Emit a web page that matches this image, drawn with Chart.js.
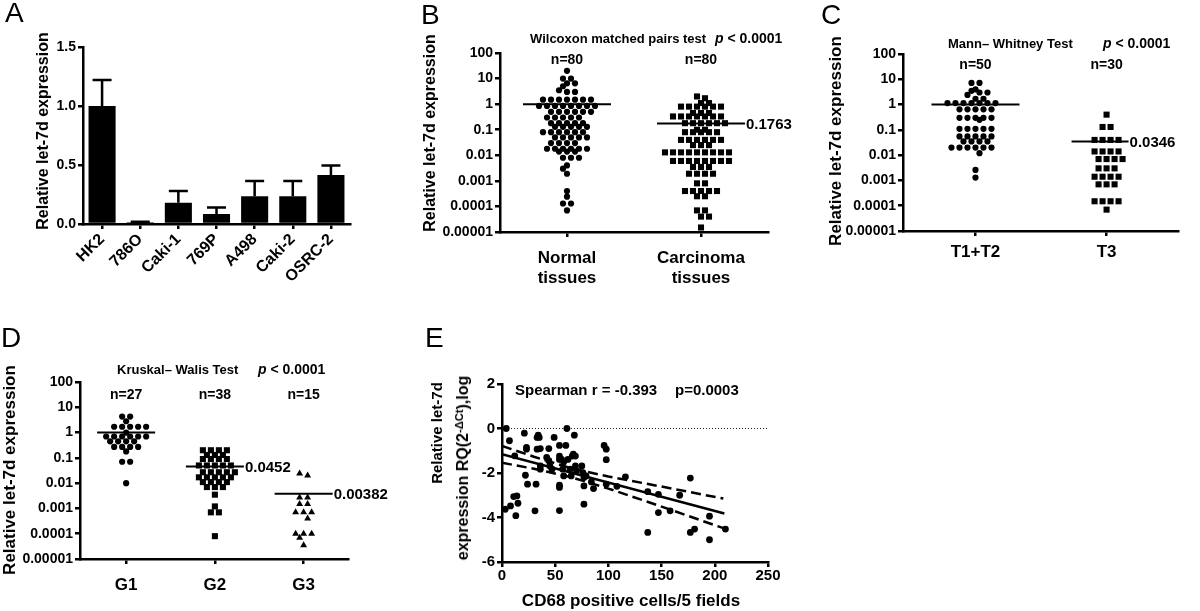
<!DOCTYPE html>
<html>
<head>
<meta charset="utf-8">
<script src="https://cdn.jsdelivr.net/npm/chart.js@4.4.0/dist/chart.umd.min.js"></script>
<style>
  body { margin: 0; background: #fff; width: 1200px; height: 611px; position: relative; overflow: hidden;
         font-family: "Liberation Sans", Arial, Helvetica, sans-serif; color: #000; }
  canvas { position: absolute; }
  .lt { position: absolute; font-size: 28px; line-height: 1; }
  .yt { position: absolute; font-weight: bold; white-space: nowrap; line-height: 1;
        transform: translate(-50%, -50%) rotate(-90deg); }
  .tt { position: absolute; font-weight: bold; white-space: nowrap; line-height: 1; transform: translateY(-50%); }
  .ct { position: absolute; font-weight: bold; white-space: nowrap; line-height: 1; transform: translate(-50%, -50%); }
  sup { font-size: 0.7em; vertical-align: 0.45em; line-height: 0; }
</style>
</head>
<body>
<canvas id="chartA"></canvas>
<canvas id="chartB"></canvas>
<canvas id="chartC"></canvas>
<canvas id="chartD"></canvas>
<canvas id="chartE"></canvas>

<div class="lt" style="left:5px;top:-1px">A</div>
<div class="lt" style="left:421px;top:1px">B</div>
<div class="lt" style="left:821px;top:1px">C</div>
<div class="lt" style="left:1px;top:324px">D</div>
<div class="lt" style="left:425px;top:324px">E</div>

<div class="yt" style="left:43px;top:131px;font-size:16px">Relative let-7d expression</div>
<div class="yt" style="left:430px;top:133px;font-size:16px">Relative let-7d expression</div>
<div class="yt" style="left:835px;top:141px;font-size:17px">Relative let-7d expression</div>
<div class="yt" style="left:9px;top:470px;font-size:17px">Relative let-7d expression</div>
<div class="yt" style="left:436px;top:433px;font-size:15px">Relative let-7d</div>
<div class="yt" style="left:463px;top:468px;font-size:16px">expression RQ(2<sup>-ΔCt</sup>),log</div>

<div class="tt" style="left:530px;top:38px;font-size:13px">Wilcoxon matched pairs test</div>
<div class="tt" style="left:715px;top:38px;font-size:14px"><i>p</i> &lt; 0.0001</div>
<div class="tt" style="left:948px;top:43px;font-size:13px">Mann– Whitney Test</div>
<div class="tt" style="left:1103px;top:43px;font-size:14px"><i>p</i> &lt; 0.0001</div>
<div class="tt" style="left:117px;top:369px;font-size:13px">Kruskal– Walis Test</div>
<div class="tt" style="left:258px;top:369px;font-size:14px"><i>p</i> &lt; 0.0001</div>
<div class="tt" style="left:515px;top:389px;font-size:15px">Spearman r = -0.393</div>
<div class="tt" style="left:675px;top:389px;font-size:15px">p=0.0003</div>
<div class="ct" style="left:631px;top:600px;font-size:17px">CD68 positive cells/5 fields</div>

<script>
// ===== A: let-7d in cell lines =====
const cellLines = ["HK2", "786O", "Caki-1", "769P", "A498", "Caki-2", "OSRC-2"];
const cellMeans = [1.0, 0.015, 0.18, 0.085, 0.235, 0.235, 0.415];
const cellErrors = [0.22, 0.005, 0.10, 0.055, 0.13, 0.13, 0.08];
const barTicks = [0, 0.5, 1.0, 1.5];

// ===== log axis used by B, C, D =====
const logTicks = [0.00001, 0.0001, 0.001, 0.01, 0.1, 1, 10, 100];
const logTickLabels = ["0.00001", "0.0001", "0.001", "0.01", "0.1", "1", "10", "100"];

// ===== B: normal vs carcinoma =====
const groupsB = [["Normal", "tissues"], ["Carcinoma", "tissues"]];
const normalTissues = [20, 10, 10, 6.5, 6.5, 5, 3.5, 3, 3,
  1.5, 1.5, 1.5, 1.5, 1.5, 1.5, 1.5,
  0.85, 0.85, 0.85, 0.85, 0.85, 0.85, 0.85, 0.85,
  0.5, 0.5, 0.5, 0.5, 0.5, 0.5,
  0.3, 0.3, 0.3, 0.3, 0.3,
  0.18, 0.18, 0.18, 0.18, 0.18,
  0.13, 0.13, 0.13, 0.13, 0.13,
  0.08, 0.08, 0.08, 0.08, 0.08, 0.08,
  0.05, 0.05, 0.05, 0.05, 0.05,
  0.03, 0.03, 0.03, 0.03,
  0.018, 0.018, 0.018, 0.018, 0.018, 0.018,
  0.014, 0.014, 0.014,
  0.008, 0.008, 0.008,
  0.004, 0.003, 0.0019, 0.0004, 0.00024, 0.00013, 0.00013, 0.00007];
const carcinomaTissues = [2.0, 1.7, 1.1, 1.1,
  0.8, 0.8, 0.8, 0.8, 0.8, 0.8,
  0.45, 0.45, 0.45,
  0.33, 0.33, 0.33, 0.33, 0.33, 0.33, 0.33,
  0.18, 0.18, 0.18, 0.18, 0.18, 0.18,
  0.1, 0.1,
  0.08, 0.08, 0.08, 0.08, 0.08,
  0.04, 0.04, 0.04, 0.04, 0.04, 0.04,
  0.025, 0.025, 0.025,
  0.013, 0.013, 0.013, 0.013, 0.013, 0.013, 0.013, 0.013, 0.013,
  0.006, 0.006, 0.006, 0.006, 0.006, 0.006, 0.006, 0.006,
  0.0035, 0.0035, 0.0035,
  0.0019, 0.0019, 0.0019, 0.0019,
  0.0008, 0.0008,
  0.0004, 0.0004, 0.0004, 0.0004, 0.0004,
  0.00025, 0.00025, 0.00007, 0.00007, 0.00004, 0.00004, 0.000015];
const mediansB = [1, 0.1763];
const medianLabelsB = ["", "0.1763"];
const countsB = ["n=80", "n=80"];

// ===== C: T stage =====
const groupsC = ["T1+T2", "T3"];
const stageT12 = [7.2, 7.2, 4, 3.5, 3, 3, 2.4, 1.7, 1.7,
  1.15, 1.15, 1.15, 1.15, 1.15, 1.15, 1.15,
  0.65, 0.65, 0.65, 0.65, 0.65,
  0.3, 0.3, 0.3, 0.3, 0.3, 0.25,
  0.11, 0.11, 0.11, 0.11, 0.11,
  0.055, 0.055, 0.055, 0.055, 0.055,
  0.035, 0.035, 0.035, 0.035,
  0.02, 0.02, 0.02, 0.02, 0.02, 0.02,
  0.012, 0.0026, 0.0013];
const stageT3 = [0.4, 0.13, 0.13,
  0.04, 0.04, 0.04, 0.04,
  0.014, 0.014, 0.014, 0.014,
  0.007, 0.007, 0.007, 0.007,
  0.003, 0.003, 0.003,
  0.0014, 0.0014, 0.0014, 0.0014,
  0.0007, 0.0007, 0.0007,
  0.00015, 0.00015, 0.00015, 0.00015, 0.00007];
const mediansC = [1, 0.0346];
const medianLabelsC = ["", "0.0346"];
const countsC = ["n=50", "n=30"];

// ===== D: grade =====
const groupsD = ["G1", "G2", "G3"];
const gradeG1 = [4.3, 4.3, 2.8, 1.7, 1.7, 1.7, 1.7, 1.7, 1.0,
  0.7, 0.7, 0.7, 0.7, 0.7, 0.7,
  0.45, 0.45, 0.45, 0.45,
  0.27, 0.27, 0.27, 0.27, 0.18, 0.07, 0.07, 0.01];
const gradeG2 = [0.2, 0.2, 0.2, 0.2, 0.13, 0.13, 0.13,
  0.09, 0.09, 0.09, 0.09,
  0.05, 0.05, 0.05, 0.05, 0.05,
  0.027, 0.027, 0.027, 0.027, 0.027,
  0.017, 0.017, 0.017, 0.017, 0.017,
  0.011, 0.011, 0.011, 0.011,
  0.007, 0.007, 0.007,
  0.0035, 0.0012, 0.0007, 0.0007, 0.00008];
const gradeG3 = [0.024, 0.02, 0.0027, 0.0027, 0.0015, 0.0015,
  0.0007, 0.0007, 0.0007, 0.0004,
  0.0001, 0.0001, 0.0001, 0.00007, 0.000035];
const mediansD = [1, 0.0452, 0.00382];
const medianLabelsD = ["", "0.0452", "0.00382"];
const countsD = ["n=27", "n=38", "n=15"];

// ===== E: correlation with CD68 =====
const cd68Cells = [4, 7, 3, 8, 12, 11, 14, 13, 15, 21, 23, 23, 22, 24, 31, 32, 33, 34, 35, 33,
  36, 36, 36, 44, 42, 44, 45, 49, 47, 54, 54, 54, 54, 54, 54, 56, 57, 58, 58, 60,
  61, 62, 64, 65, 66, 67, 68, 69, 69, 70, 75, 76, 77, 77, 77, 79, 84, 86, 96, 98,
  98, 98, 108, 116, 137, 137, 147, 147, 158, 167, 177, 177, 181, 195, 195, 210];
const let7dLog = [0.0, -0.55, -3.63, -3.48, -1.23, -3.06, -3.03, -3.92, -3.36, -0.21,
  -0.85, -0.93, -2.1, -2.5, -3.7, -2.5, -0.4, -0.3, -0.4, -0.93,
  -0.9, -1.83, -1.68, -0.9, -1.3, -1.45, -1.68, -0.4, -1.83, -1.24,
  -1.39, -0.76, -2.55, -2.65, -3.69, -1.39, -1.83, -2.13, -1.5, -0.76,
  0.0, -1.39, -1.83, -2.13, -1.24, -1.15, -0.3, -1.24, -1.68, -1.9,
  -1.68, -1.98, -2.2, -2.58, -3.4, -2.13, -2.4, -2.7, -0.76, -1.4,
  -0.93, -2.5, -2.6, -2.17, -2.84, -4.67, -2.96, -3.78, -3.7, -3.0,
  -2.23, -4.67, -4.52, -5.0, -3.94, -4.52];
const fitX = [0, 209];
const fitY = [-1.16, -3.82];
const bandX = [0, 30, 65, 100, 150, 208];
const bandUpper = [-0.78, -1.27, -1.79, -2.16, -2.61, -3.15];
const bandLower = [-1.54, -1.81, -2.19, -2.70, -3.51, -4.48];
const ticksEx = [0, 50, 100, 150, 200, 250];
const ticksEy = [-6, -4, -2, 0, 2];

// ===== shared helpers =====
const FONT = '"Liberation Sans", Arial, Helvetica, sans-serif';
const bold = size => ({ family: FONT, size: size, weight: 'bold' });

function placeCanvas(id, box) {
    const c = document.getElementById(id);
    c.width = box[2];
    c.height = box[3];
    c.style.left = box[0] + "px";
    c.style.top = box[1] + "px";
    return c;
}

// box = [left, top, width, height] of canvas, area = [x0, y0, x1, y1] of plot, page pixels
function frame(box, area) {
    return {
        padding: { left: 0, top: area[1] - box[1], right: box[0] + box[2] - area[2], bottom: 0 },
        yWidth: area[0] - box[0],
        xHeight: box[1] + box[3] - area[3]
    };
}

function axis(extra) {
    return Object.assign({
        border: { display: true, color: "#000", width: 2.5 },
        grid: { display: true, drawOnChartArea: false, drawTicks: true, tickLength: 5, color: "#000", lineWidth: 2.5, offset: false }
    }, extra);
}

const baseOptions = f => ({
    responsive: false,
    animation: false,
    devicePixelRatio: 1,
    events: [],
    layout: { padding: f.padding },
    plugins: { legend: { display: false }, tooltip: { enabled: false } }
});

// Prism-like column scatter: points in the same log row sit side by side,
// neighbouring rows are shifted half a step so the dots interleave
function swarm(values, groupIndex, stepUnits) {
    const rows = new Map();
    values.forEach(v => {
        const key = Math.floor(Math.log10(v) / 0.2 + 1e-9);
        if (!rows.has(key)) rows.set(key, []);
        rows.get(key).push(v);
    });
    const keys = [...rows.keys()].sort((a, b) => b - a);
    const pts = [];
    let prevKey = null, prevPhase = null, flip = 1;
    keys.forEach(k => {
        const row = rows.get(k);
        let shift = 0;
        const phase = ((row.length - 1) / 2) % 1;
        if (prevKey !== null && prevKey - k === 1 && phase === prevPhase) {
            shift = 0.5 * flip;
            flip = -flip;
        }
        row.forEach((v, i) => {
            pts.push({ x: groupIndex + (i - (row.length - 1) / 2 + shift) * stepUnits, y: v });
        });
        prevKey = k;
        prevPhase = (phase + Math.abs(shift)) % 1;
    });
    return pts;
}

// medians, median labels and n= labels
function groupMarks(cfg) {
    return {
        id: "groupMarks",
        afterDatasetsDraw(chart) {
            const { ctx, chartArea } = chart;
            const x = chart.scales.x, y = chart.scales.y;
            ctx.save();
            ctx.strokeStyle = "#000";
            ctx.fillStyle = "#000";
            ctx.lineWidth = 2;
            cfg.medians.forEach((m, i) => {
                const cx = x.getPixelForValue(i);
                const cy = y.getPixelForValue(m);
                const [l, r] = cfg.lineExtent[i];
                ctx.beginPath();
                ctx.moveTo(cx - l, cy);
                ctx.lineTo(cx + r, cy);
                ctx.stroke();
                if (cfg.medianLabels[i]) {
                    ctx.font = "bold 15px " + FONT;
                    ctx.textAlign = "left";
                    ctx.textBaseline = "middle";
                    ctx.fillText(cfg.medianLabels[i], cx + r + 1, cy + 1);
                }
                ctx.font = "bold 14px " + FONT;
                ctx.textAlign = "center";
                ctx.textBaseline = "middle";
                ctx.fillText(cfg.counts[i], cx, chartArea.top + cfg.countOffset);
            });
            ctx.restore();
        }
    };
}

function swarmChart(id, box, area, cfg) {
    const f = frame(box, area);
    const pxPerUnit = (area[2] - area[0]) / (cfg.xMax - cfg.xMin);
    const step = 8 / pxPerUnit;
    const datasets = cfg.series.map((vals, i) => ({
        data: swarm(vals, i, step),
        pointStyle: cfg.shapes[i],
        pointRadius: cfg.radii[i],
        backgroundColor: "#000",
        borderColor: "#000",
        borderWidth: 0
    }));
    return new Chart(placeCanvas(id, box), {
        type: "scatter",
        data: { datasets },
        options: Object.assign(baseOptions(f), {
            scales: {
                x: axis({
                    type: "linear", min: cfg.xMin, max: cfg.xMax,
                    ticks: { color: "#000", font: bold(17), padding: cfg.xPad, maxRotation: 0, autoSkip: false,
                             callback: (v, i) => cfg.groups[i] },
                    afterBuildTicks: s => { s.ticks = cfg.groups.map((g, i) => ({ value: i })); },
                    afterFit: s => { s.height = f.xHeight; }
                }),
                y: axis({
                    type: "logarithmic", min: 0.00001, max: 100,
                    ticks: { color: "#000", font: bold(14), padding: 2, autoSkip: false,
                             callback: (v, i) => logTickLabels[i] },
                    afterBuildTicks: s => { s.ticks = logTicks.map(v => ({ value: v })); },
                    afterFit: s => { s.width = f.yWidth; }
                })
            }
        }),
        plugins: [groupMarks(cfg)]
    });
}

// ===== A — bar chart with upper error bars =====
const errorBars = {
    id: "errorBars",
    afterDatasetsDraw(chart) {
        const { ctx } = chart;
        const y = chart.scales.y;
        ctx.save();
        ctx.strokeStyle = "#000";
        ctx.lineWidth = 2.5;
        chart.getDatasetMeta(0).data.forEach((bar, i) => {
            const base = y.getPixelForValue(cellMeans[i]);
            const top = y.getPixelForValue(cellMeans[i] + cellErrors[i]);
            ctx.beginPath();
            ctx.moveTo(bar.x, base);
            ctx.lineTo(bar.x, top);
            ctx.moveTo(bar.x - 9.5, top);
            ctx.lineTo(bar.x + 9.5, top);
            ctx.stroke();
        });
        ctx.restore();
    }
};

const boxA = [0, 0, 415, 300], areaA = [83, 47, 350, 224];
const fA = frame(boxA, areaA);
new Chart(placeCanvas("chartA", boxA), {
    type: "bar",
    data: {
        labels: cellLines,
        datasets: [{ data: cellMeans, backgroundColor: "#000", borderWidth: 0, barPercentage: 0.71, categoryPercentage: 1 }]
    },
    options: Object.assign(baseOptions(fA), {
        scales: {
            x: axis({
                ticks: { color: "#000", font: bold(16), minRotation: 45, maxRotation: 45, autoSkip: false, padding: 1 },
                afterFit: s => { s.height = fA.xHeight; }
            }),
            y: axis({
                min: 0, max: 1.5,
                ticks: { color: "#000", font: bold(14), padding: 2, callback: v => v.toFixed(1) },
                afterBuildTicks: s => { s.ticks = barTicks.map(v => ({ value: v })); },
                afterFit: s => { s.width = fA.yWidth; }
            })
        }
    }),
    plugins: [errorBars]
});

// ===== B, C, D — column scatter on log axis =====
swarmChart("chartB", [420, 0, 400, 300], [500, 53, 768, 232], {
    groups: groupsB, series: [normalTissues, carcinomaTissues],
    shapes: ["circle", "rect"], radii: [3.1, 4.3],
    medians: mediansB, medianLabels: medianLabelsB, counts: countsB,
    lineExtent: [[44, 44], [44, 44]], countOffset: 7,
    xMin: -0.5, xMax: 1.5, xPad: 11
});

swarmChart("chartC", [820, 0, 380, 300], [903, 54, 1178, 231], {
    groups: groupsC, series: [stageT12, stageT3],
    shapes: ["circle", "rect"], radii: [3.1, 4.3],
    medians: mediansC, medianLabels: medianLabelsC, counts: countsC,
    lineExtent: [[44, 44], [35, 22]], countOffset: 11,
    xMin: -0.553, xMax: 1.545, xPad: 6
});

swarmChart("chartD", [0, 300, 420, 311], [80, 382, 348, 559], {
    groups: groupsD, series: [gradeG1, gradeG2, gradeG3],
    shapes: ["circle", "rect", "triangle"], radii: [3.1, 4.3, 4],
    medians: mediansD, medianLabels: medianLabelsD, counts: countsD,
    lineExtent: [[29, 29], [29, 29], [29, 29]], countOffset: 13,
    xMin: -0.52, xMax: 2.5, xPad: 11
});

// ===== E — correlation scatter with fit and 95% band =====
const zeroLine = {
    id: "zeroLine",
    beforeDatasetsDraw(chart) {
        const { ctx, chartArea } = chart;
        const y0 = chart.scales.y.getPixelForValue(0);
        ctx.save();
        ctx.strokeStyle = "#222";
        ctx.lineWidth = 1;
        ctx.setLineDash([1, 2]);
        ctx.beginPath();
        ctx.moveTo(chartArea.left, y0);
        ctx.lineTo(chartArea.right, y0);
        ctx.stroke();
        ctx.restore();
    }
};

const boxE = [420, 300, 380, 311], areaE = [502, 384, 768, 562];
const fE = frame(boxE, areaE);
const toPoints = (xs, ys) => xs.map((x, i) => ({ x: x, y: ys[i] }));
new Chart(placeCanvas("chartE", boxE), {
    type: "scatter",
    data: {
        datasets: [
            { data: toPoints(cd68Cells, let7dLog), pointRadius: 3.4, backgroundColor: "#000", borderWidth: 0 },
            { data: toPoints(fitX, fitY), showLine: true, borderColor: "#000", borderWidth: 2.5, pointRadius: 0 },
            { data: toPoints(bandX, bandUpper), showLine: true, borderColor: "#000", borderWidth: 2.5, borderDash: [10, 5], pointRadius: 0 },
            { data: toPoints(bandX, bandLower), showLine: true, borderColor: "#000", borderWidth: 2.5, borderDash: [10, 5], pointRadius: 0 }
        ]
    },
    options: Object.assign(baseOptions(fE), {
        scales: {
            x: axis({
                type: "linear", min: 0, max: 250,
                ticks: { color: "#000", font: bold(15), padding: 0, maxRotation: 0, autoSkip: false },
                afterBuildTicks: s => { s.ticks = ticksEx.map(v => ({ value: v })); },
                afterFit: s => { s.height = fE.xHeight; }
            }),
            y: axis({
                type: "linear", min: -6, max: 2,
                ticks: { color: "#000", font: bold(15), padding: 2, autoSkip: false },
                afterBuildTicks: s => { s.ticks = ticksEy.map(v => ({ value: v })); },
                afterFit: s => { s.width = fE.yWidth; }
            })
        }
    }),
    plugins: [zeroLine]
});
</script>
</body>
</html>
